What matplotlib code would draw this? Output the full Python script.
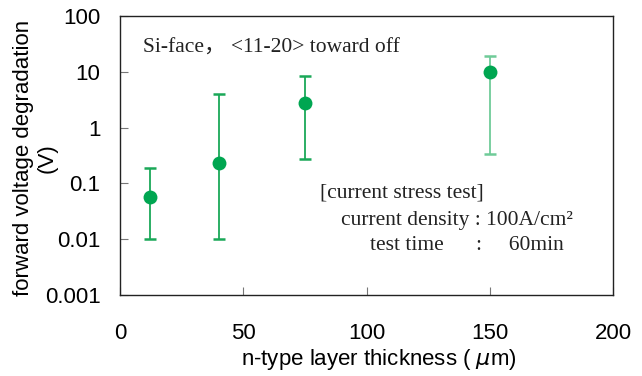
import matplotlib
matplotlib.use("Agg")
import matplotlib.pyplot as plt
import numpy as np

thickness = [12, 40, 75, 150]
degradation = [0.056, 0.232, 2.8, 10.0]
err_upper = [0.19, 3.95, 8.3, 19.5]
err_lower = [0.01, 0.01, 0.27, 0.336]
bar_colors = ['#1aa858', '#1aa858', '#1aa858', '#6fcb98']

xticks = [0, 50, 100, 150, 200]
xticklabels = ['0', '50', '100', '150', '200']
yticks = [0.001, 0.01, 0.1, 1, 10, 100]
yticklabels = ['0.001', '0.01', '0.1', '1', '10', '100']

fig = plt.figure(figsize=(6.42, 3.76), dpi=100)
ax = fig.add_axes([120/642, 1-295/376, (613-120)/642, (295-16)/376])

sans = 'Liberation Sans'
serif = ['Liberation Serif', 'Noto Sans CJK JP']

for x, y, hi, lo, c in zip(thickness, degradation, err_upper, err_lower, bar_colors):
    ax.errorbar([x], [y], yerr=[[y - lo], [hi - y]], fmt='none', ecolor=c,
                elinewidth=1.3, capsize=4.5, capthick=1.8, zorder=2)
ax.plot(thickness, degradation, 'o', color='#00a651', markersize=10, zorder=3,
        markeredgewidth=0)

ax.set_yscale('log')
ax.set_xlim(0, 200)
ax.set_ylim(0.001, 100)
ax.set_xticks(xticks)
ax.set_xticklabels(xticklabels, fontfamily=sans, fontsize=16)
ax.set_yticks(yticks)
ax.set_yticklabels(yticklabels, fontfamily=sans, fontsize=16)
ax.yaxis.set_minor_locator(matplotlib.ticker.NullLocator())
ax.tick_params(direction='in', length=6, width=0.8, color='#777777',
               top=False, right=False)
ax.tick_params(axis='y', pad=14)
ax.tick_params(axis='x', pad=20)

for s in ax.spines.values():
    s.set_linewidth(1.0)
    s.set_color('#222222')

ax.set_xlabel('n-type layer thickness ( $\\mu$m)', fontfamily=sans, fontsize=16)
ax.xaxis.set_label_coords(0.525, -0.251)
ax.xaxis.label.set_va('baseline')

ax.set_ylabel('forward voltage degradation', fontfamily=sans, fontsize=16)
ax.yaxis.set_label_coords(-0.195, 0.49)
ax.yaxis.label.set_va('center')
ax.text(-0.148, 0.49, '(V)', transform=ax.transAxes, rotation=90,
        rotation_mode='anchor', ha='center', va='center',
        fontfamily=sans, fontsize=16)

ax.text(0.047, 0.867, 'Si-face\uff0c <11-20> toward off', transform=ax.transAxes,
        fontfamily=serif, fontsize=15.5, color='#222222')
ax.text(0.405, 0.348, '[current stress test]', transform=ax.transAxes,
        fontfamily=serif, fontsize=15.5, color='#222222')
ax.text(0.448, 0.251, 'current density : 100A/cm\u00b2', transform=ax.transAxes,
        fontfamily=serif, fontsize=15.5, color='#222222')
ax.text(0.508, 0.161, 'test time      :     60min', transform=ax.transAxes,
        fontfamily=serif, fontsize=15.5, color='#222222')

fig.savefig('out.png', dpi=100)
